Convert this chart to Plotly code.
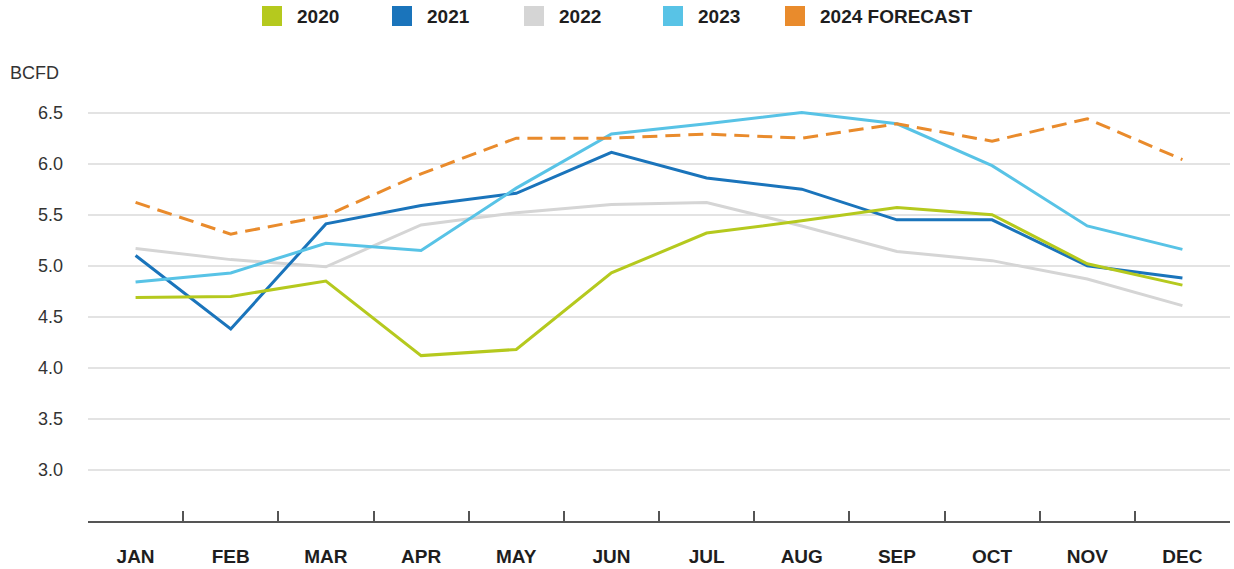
import plotly.graph_objects as go

# Monthly natural gas demand, billion cubic feet per day
months = ["JAN", "FEB", "MAR", "APR", "MAY", "JUN",
          "JUL", "AUG", "SEP", "OCT", "NOV", "DEC"]

y2020 = [4.69, 4.70, 4.85, 4.12, 4.18, 4.93, 5.32, 5.44, 5.57, 5.50, 5.02, 4.81]
y2021 = [5.10, 4.38, 5.41, 5.59, 5.71, 6.11, 5.86, 5.75, 5.45, 5.45, 5.00, 4.88]
y2022 = [5.17, 5.06, 4.99, 5.40, 5.52, 5.60, 5.62, 5.39, 5.14, 5.05, 4.87, 4.61]
y2023 = [4.84, 4.93, 5.22, 5.15, 5.76, 6.29, 6.39, 6.50, 6.39, 5.98, 5.39, 5.16]
y2024 = [5.62, 5.31, 5.49, 5.90, 6.25, 6.25, 6.29, 6.25, 6.39, 6.22, 6.44, 6.04]

y_ticks = [3.0, 3.5, 4.0, 4.5, 5.0, 5.5, 6.0, 6.5]

series = [
    ("2020", y2020, "#B5C91E", "solid"),
    ("2021", y2021, "#1A74BB", "solid"),
    ("2022", y2022, "#D5D5D5", "solid"),
    ("2023", y2023, "#58C3E6", "solid"),
    ("2024 FORECAST", y2024, "#E98B2C", "15px,8px"),
]
draw_order = ["2022", "2021", "2020", "2023", "2024 FORECAST"]

FONT = "Liberation Sans, Arial, sans-serif"
W, H = 1234, 569
ML, MR, MT, MB = 88, 4, 64, 48
PW, PH = W - ML - MR, H - MT - MB
PX_PER_UNIT = 102.1


def px_x(p):
    return (p - ML) / PW


def px_y(p):
    return (H - MB - p) / PH


fig = go.Figure()
lookup = {name: (vals, color, dash) for name, vals, color, dash in series}
for name in draw_order:
    vals, color, dash = lookup[name]
    fig.add_trace(go.Scatter(
        x=months, y=vals, mode="lines", name=name, showlegend=False,
        line=dict(color=color, width=3, dash=dash),
    ))

# Legend row: square swatches followed by bold labels
swatch_left = [262, 392, 524, 663, 785]
shapes = []
annotations = []
for (name, _, color, _), left in zip(series, swatch_left):
    shapes.append(dict(
        type="rect", xref="paper", yref="paper",
        x0=px_x(left), x1=px_x(left + 20), y0=px_y(26), y1=px_y(6),
        fillcolor=color, line=dict(width=0),
    ))
    annotations.append(dict(
        xref="paper", yref="paper", x=px_x(left + 33), y=px_y(16),
        xanchor="left", yanchor="middle", showarrow=False, text=f"<b>{name}</b>",
        font=dict(family=FONT, size=19, color="#1E1E1E"),
    ))

annotations.append(dict(
    xref="paper", yref="paper", x=px_x(8), y=px_y(73),
    xanchor="left", yanchor="middle", showarrow=False, text="BCFD",
    font=dict(family=FONT, size=18, color="#333333"),
))

fig.update_layout(
    width=W, height=H,
    margin=dict(l=ML, r=MR, t=MT, b=MB, autoexpand=False),
    paper_bgcolor="white", plot_bgcolor="white",
    font=dict(family=FONT, size=18, color="#333333"),
    shapes=shapes, annotations=annotations,
    showlegend=False,
)

fig.update_xaxes(
    type="category", range=[-0.5, 11.5], automargin=False,
    tickson="boundaries", ticks="inside", ticklen=10, tickwidth=1.5,
    tickcolor="#555555",
    showline=True, linecolor="#555555", linewidth=2,
    showgrid=False, zeroline=False,
    tickfont=dict(family=FONT, size=19, color="#1E1E1E", weight="bold"),
    ticklabelstandoff=17,
)

fig.update_yaxes(
    range=[2.5, 2.5 + PH / PX_PER_UNIT], automargin=False,
    tickvals=y_ticks, ticktext=[f"{v:.1f}" for v in y_ticks],
    showgrid=True, gridcolor="#E3E3E3", gridwidth=1.5,
    showline=False, zeroline=False, ticks="",
    tickfont=dict(family=FONT, size=18, color="#333333"),
    ticklabelstandoff=24,
)

fig.write_html("out.html")
